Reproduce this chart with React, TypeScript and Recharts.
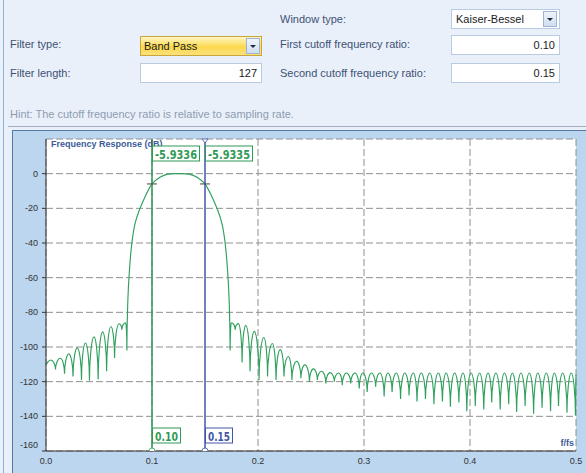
import React from 'react';
import { LineChart, Line, XAxis, YAxis, CartesianGrid, ReferenceLine, ReferenceDot } from 'recharts';

// Frequency (f/fs) sample positions
const freq = [
  0.0, 0.0045, 0.009, 0.0135, 0.0175, 0.0215, 0.0255, 0.0295, 0.0335, 0.0372,
  0.041, 0.0453, 0.0492, 0.0535, 0.0572, 0.0613, 0.0647, 0.0689, 0.0715, 0.0752,
  0.0763,
  0.0772, 0.0787, 0.0809, 0.084, 0.0887, 0.0934, 0.1, 0.1075, 0.115, 0.125,
  0.135, 0.1425, 0.15, 0.1566, 0.1613, 0.166, 0.1691, 0.1713, 0.1728, 0.1737,
  0.1748, 0.1785, 0.1815, 0.185, 0.1885, 0.1925, 0.1965, 0.201, 0.2055, 0.209,
  0.2135, 0.217, 0.221, 0.2245, 0.2286, 0.232, 0.2365, 0.2405, 0.2443, 0.2485,
  0.2522, 0.256, 0.26, 0.264, 0.268, 0.272, 0.276, 0.2795, 0.2835, 0.2875,
  0.2915, 0.2955, 0.299, 0.303, 0.307, 0.311, 0.315, 0.319, 0.3225, 0.3265,
  0.3305, 0.3345, 0.3385, 0.3425, 0.3465, 0.35, 0.354, 0.358, 0.362, 0.366,
  0.37, 0.374, 0.3775, 0.3815, 0.3855, 0.3895, 0.3935, 0.397, 0.401, 0.405,
  0.409, 0.413, 0.417, 0.4205, 0.4245, 0.4285, 0.4325, 0.4365, 0.44, 0.444,
  0.448, 0.452, 0.456, 0.46, 0.464, 0.468, 0.472, 0.476, 0.4795, 0.4835,
  0.4875, 0.4915, 0.4955, 0.4995, 0.5,
];

// Magnitude response in dB
const response = [
  -110, -107.5, -113, -106.5, -115.5, -104, -117, -100.5, -119, -97.7,
  -119.5, -94.2, -118.8, -91.3, -114, -88.2, -106.4, -86.6, -90, -86,
  -102,
  -73.5, -56, -40.5, -28.8, -20, -13.4, -5.93, -2.1, -0.3, 0,
  -0.3, -2.1, -5.93, -13.4, -20, -28.8, -40.5, -56, -73.5, -102,
  -86, -90, -86.5, -109, -87.5, -114, -91, -119, -94.5, -117,
  -98, -119, -101.5, -117, -105.5, -119, -108.3, -118, -110.3, -120,
  -112.6, -119, -114, -121, -114.8, -120, -115, -122, -115, -121,
  -115, -124, -115, -126, -115, -123, -115, -128.5, -115, -126,
  -115, -130, -115, -128, -115, -131.5, -115, -130, -115, -133,
  -115, -131.5, -115, -134.5, -115, -132, -115, -137, -115, -134,
  -115, -136, -115, -132, -115, -136, -115, -133, -115, -137.5,
  -115, -134, -115, -138.5, -115, -135, -115, -137, -115, -134,
  -115, -138, -115, -139.5, -116,
];

const xTicks = [0, 0.1, 0.2, 0.3, 0.4, 0.5];
const xInnerTicks = [0.1, 0.2, 0.3, 0.4];
const yTicks = [-160, -140, -120, -100, -80, -60, -40, -20, 0];
const yInnerTicks = [-140, -120, -100, -80, -60, -40, -20, 0];

const cursorFreqs = [0.1, 0.15];
const cursorLabels = ['0.10', '0.15'];
const cursorValues = ['-5.9336', '-5.9335'];
const cursorValueDb = -5.93;

const UI_FONT = '"Liberation Sans", Arial, sans-serif';
const BOX_FONT = '"DejaVu Sans", Verdana, sans-serif';
const GREEN = '#2f9a56';
const CURVE = '#2ea05c';
const BLUE = '#4256a8';
const LABEL_COLOR = '#3e5275';

// Curve drawing: rounded caps at local maxima, sharp cusps at local minima
function lobeCurve(context: any) {
  let pts: number[][] = [];
  return {
    areaStart() {},
    areaEnd() {},
    lineStart() {
      pts = [];
    },
    point(x: number, y: number) {
      pts.push([+x, +y]);
    },
    lineEnd() {
      const n = pts.length;
      if (!n) return;
      context.moveTo(pts[0][0], pts[0][1]);
      if (n === 1) return;
      const kind = pts.map((p, i) => {
        if (i === 0 || i === n - 1) return 's';
        const a = pts[i - 1][1];
        const b = pts[i + 1][1];
        if (p[1] < a && p[1] < b) return 'peak';
        if (p[1] > a && p[1] > b) return 'null';
        return 's';
      });
      const slope = (i: number) => {
        const a = pts[Math.max(0, i - 1)];
        const b = pts[Math.min(n - 1, i + 1)];
        const d = b[0] - a[0];
        return d === 0 ? 0 : (b[1] - a[1]) / d;
      };
      for (let i = 0; i < n - 1; i++) {
        const A = pts[i];
        const B = pts[i + 1];
        const dx = B[0] - A[0];
        const dy = B[1] - A[1];
        let c1: number[];
        let c2: number[];
        if (kind[i] === 'peak') c1 = [A[0] + dx * 0.5, A[1]];
        else if (kind[i] === 'null') c1 = [A[0], A[1] + dy * 0.5];
        else {
          const m = slope(i);
          c1 = [A[0] + dx / 3, A[1] + (m * dx) / 3];
        }
        if (kind[i + 1] === 'peak') c2 = [B[0] - dx * 0.5, B[1]];
        else if (kind[i + 1] === 'null') c2 = [B[0], B[1] - dy * 0.5];
        else {
          const m = slope(i + 1);
          c2 = [B[0] - dx / 3, B[1] - (m * dx) / 3];
        }
        context.bezierCurveTo(c1[0], c1[1], c2[0], c2[1], B[0], B[1]);
      }
    },
  };
}

const lbl = (left: number, top: number, text: string, color = LABEL_COLOR) => (
  <div
    style={{
      position: 'absolute',
      left,
      top,
      fontFamily: UI_FONT,
      fontSize: 11,
      lineHeight: '14px',
      color,
      whiteSpace: 'nowrap',
    }}
  >
    {text}
  </div>
);

const ArrowButton = ({ left, top }: { left: number; top: number }) => (
  <div
    style={{
      position: 'absolute',
      left,
      top,
      width: 14,
      height: 16,
      boxSizing: 'border-box',
      border: '1px solid #9db4d3',
      background: 'linear-gradient(#eef4fb, #cfdef0)',
    }}
  >
    <div
      style={{
        position: 'absolute',
        left: 3,
        top: 6,
        width: 0,
        height: 0,
        borderLeft: '3px solid transparent',
        borderRight: '3px solid transparent',
        borderTop: '3px solid #1e2a3a',
      }}
    />
  </div>
);

const inputBox = (left: number, top: number, width: number, text: string, align: 'left' | 'right') => (
  <div
    style={{
      position: 'absolute',
      left,
      top,
      width,
      height: 20,
      boxSizing: 'border-box',
      border: '1px solid #b9cbe2',
      background: '#ffffff',
      fontFamily: UI_FONT,
      fontSize: 11,
      lineHeight: '18px',
      color: '#1a1a1a',
      textAlign: align,
      paddingLeft: 4,
      paddingRight: 4,
    }}
  >
    {text}
  </div>
);

export default function App() {
  const data = freq.map((f, i) => ({ f, db: response[i] }));

  const YTick = (props: any) => {
    const { x, y, payload } = props;
    const shift = payload.value === -160 ? -6 : 0;
    return (
      <text x={x} y={y + shift} dy={3} textAnchor="end" fontSize={9} fontFamily={UI_FONT} fill="#333">
        {payload.value}
      </text>
    );
  };

  const XTick = (props: any) => {
    const { x, y, payload } = props;
    return (
      <text x={x} y={y} dy={5} textAnchor="middle" fontSize={9} fontFamily={UI_FONT} fill="#333">
        {Number(payload.value).toFixed(1)}
      </text>
    );
  };

  const noTick = () => null;

  return (
    <div
      style={{
        position: 'absolute',
        left: 0,
        top: 0,
        width: 586,
        height: 473,
        overflow: 'hidden',
        background: '#e9f0f9',
      }}
    >
      <div style={{ position: 'absolute', left: 3, top: 0, width: 1, height: 473, background: '#8fb0d8' }} />

      {lbl(280, 12, 'Window type:')}
      {inputBox(451, 9, 109, 'Kaiser-Bessel', 'left')}
      <ArrowButton left={543} top={11} />

      {lbl(10, 37, 'Filter type:')}
      <div
        style={{
          position: 'absolute',
          left: 140,
          top: 36,
          width: 122,
          height: 20,
          boxSizing: 'border-box',
          border: '1px solid #c9a53c',
          background: 'linear-gradient(#fff6c4, #fbd94e 55%, #fbe07a)',
          fontFamily: UI_FONT,
          fontSize: 11,
          lineHeight: '18px',
          color: '#1a1a1a',
          paddingLeft: 3,
        }}
      >
        Band Pass
      </div>
      <ArrowButton left={246} top={38} />

      {lbl(280, 37, 'First cutoff frequency ratio:')}
      {inputBox(451, 35, 109, '0.10', 'right')}

      {lbl(10, 66, 'Filter length:')}
      {inputBox(140, 63, 122, '127', 'right')}

      {lbl(280, 66, 'Second cutoff frequency ratio:')}
      {inputBox(451, 63, 109, '0.15', 'right')}

      {lbl(10, 107, 'Hint: The cutoff frequency ratio is relative to sampling rate.', '#8e9cb2')}

      <div style={{ position: 'absolute', left: 8, top: 126, width: 578, height: 1, background: '#a3afbf' }} />

      <div
        style={{
          position: 'absolute',
          left: 12,
          top: 130,
          width: 574,
          height: 343,
          boxSizing: 'border-box',
          background: '#bcd6ef',
          borderTop: '1px solid #56799f',
          borderLeft: '1px solid #56799f',
        }}
      />

      <div style={{ position: 'absolute', left: 0, top: 130 }}>
        <LineChart width={586} height={343} data={data} margin={{ top: 9, right: 10, bottom: 0, left: 12 }}>
          <CartesianGrid stroke="#909090" strokeDasharray="7 3" fill="#ffffff" />
          <XAxis
            type="number"
            dataKey="f"
            domain={[0, 0.5]}
            ticks={xTicks}
            height={22}
            tickLine={false}
            tickSize={6}
            axisLine={{ stroke: '#333' }}
            tick={XTick}
            interval={0}
          />
          <XAxis
            xAxisId="top"
            orientation="top"
            type="number"
            dataKey="f"
            domain={[0, 0.5]}
            ticks={xInnerTicks}
            height={0}
            mirror
            tickSize={4}
            tickLine={{ stroke: '#333' }}
            axisLine={{ stroke: '#333' }}
            tick={noTick}
          />
          <YAxis
            type="number"
            domain={[-160, 20]}
            ticks={yTicks}
            width={34}
            tickSize={4}
            tickMargin={4}
            tickLine={{ stroke: '#333' }}
            axisLine={{ stroke: '#333' }}
            tick={YTick}
            interval={0}
            allowDataOverflow
          />
          <YAxis
            yAxisId="right"
            orientation="right"
            type="number"
            domain={[-160, 20]}
            ticks={yInnerTicks}
            width={0}
            mirror
            tickSize={4}
            tickLine={{ stroke: '#333' }}
            axisLine={{ stroke: '#333', strokeWidth: 2 }}
            tick={noTick}
          />

          <ReferenceDot
            x={0}
            y={20}
            r={0}
            ifOverflow="visible"
            shape={(p: any) => (
              <text x={p.cx + 5} y={p.cy + 8} fontSize={9} fontWeight="bold" fontFamily={UI_FONT} fill="#3b5a98">
                Frequency Response (dB)
              </text>
            )}
          />
          <ReferenceDot
            x={0.5}
            y={-160}
            r={0}
            ifOverflow="visible"
            shape={(p: any) => (
              <text
                x={p.cx - 2}
                y={p.cy - 5}
                textAnchor="end"
                fontSize={9}
                fontWeight="bold"
                fontFamily={UI_FONT}
                fill="#3b5a98"
              >
                f/fs
              </text>
            )}
          />

          <Line
            type={lobeCurve as any}
            dataKey="db"
            stroke={CURVE}
            strokeWidth={1.15}
            dot={false}
            isAnimationActive={false}
          />

          <ReferenceLine x={cursorFreqs[0]} stroke={GREEN} strokeWidth={1.5} ifOverflow="visible" />
          <ReferenceLine x={cursorFreqs[1]} stroke={BLUE} strokeWidth={1.5} ifOverflow="visible" />

          {cursorFreqs.map((cf, i) => (
            <ReferenceDot
              key={'m' + i}
              x={cf}
              y={cursorValueDb}
              r={0}
              ifOverflow="visible"
              shape={(p: any) => (
                <line x1={p.cx - 5} x2={p.cx + 5} y1={p.cy} y2={p.cy} stroke="#444" strokeWidth={1} />
              )}
            />
          ))}

          {cursorFreqs.map((cf, i) => (
            <ReferenceDot
              key={'t' + i}
              x={cf}
              y={20}
              r={0}
              ifOverflow="visible"
              shape={(p: any) => (
                <g>
                  {i === 1 && (
                    <path
                      d={`M${p.cx - 3},${p.cy} L${p.cx + 3},${p.cy} L${p.cx},${p.cy + 4} Z`}
                      fill="#fff"
                      stroke={BLUE}
                      strokeWidth={0.8}
                    />
                  )}
                  <rect x={p.cx + 0.5} y={p.cy + 7} width={47} height={15} fill="#fff" stroke={GREEN} strokeWidth={1} />
                  <text
                    x={p.cx + 3}
                    y={p.cy + 19.5}
                    fontSize={12.5}
                    fontWeight="bold"
                    fontFamily={BOX_FONT}
                    fill={GREEN}
                    textLength={42}
                    lengthAdjust="spacingAndGlyphs"
                  >
                    {cursorValues[i]}
                  </text>
                </g>
              )}
            />
          ))}

          {cursorFreqs.map((cf, i) => (
            <ReferenceDot
              key={'b' + i}
              x={cf}
              y={-160}
              r={0}
              ifOverflow="visible"
              shape={(p: any) => {
                const c = i === 0 ? GREEN : BLUE;
                return (
                  <g>
                    <path
                      d={`M${p.cx - 3},${p.cy} A3,3 0 0 1 ${p.cx + 3},${p.cy}`}
                      fill="#fff"
                      stroke={c}
                      strokeWidth={0.8}
                    />
                    <rect
                      x={p.cx + 0.5}
                      y={p.cy - 23}
                      width={i === 0 ? 28 : 27}
                      height={15}
                      fill="#fff"
                      stroke={c}
                      strokeWidth={1}
                    />
                    <text
                      x={p.cx + 3}
                      y={p.cy - 10.5}
                      fontSize={12.5}
                      fontWeight="bold"
                      fontFamily={BOX_FONT}
                      fill={c}
                      textLength={i === 0 ? 23 : 22}
                      lengthAdjust="spacingAndGlyphs"
                    >
                      {cursorLabels[i]}
                    </text>
                  </g>
                );
              }}
            />
          ))}
        </LineChart>
      </div>
    </div>
  );
}
